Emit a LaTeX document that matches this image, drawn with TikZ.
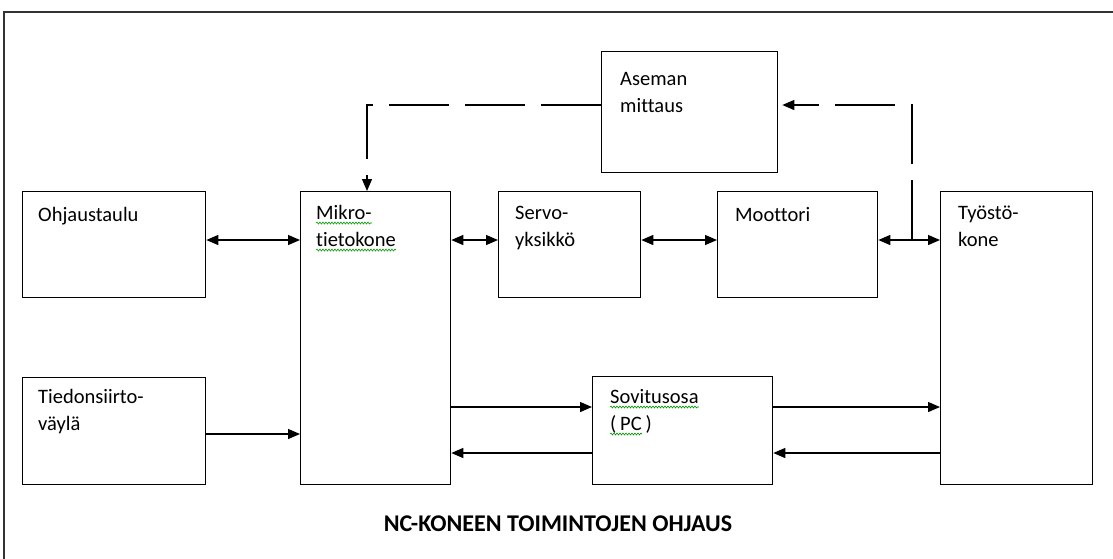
\documentclass[tikz,border=0pt]{standalone}
\usepackage{fontspec}
\setmainfont{Carlito}[Ligatures={NoCommon}]
\usetikzlibrary{arrows.meta,decorations.pathmorphing}
\begin{document}
\begin{tikzpicture}[x=1pt,y=-1pt,
  blk/.style={draw,line width=1.3pt,anchor=north west,inner sep=0pt},
  lbl/.style={anchor=base west,inner sep=0pt,font=\fontsize{20.5}{24}\selectfont},
  conn/.style={line width=1.3pt},
  tip/.style={-{Triangle[length=12pt,width=10pt]}},
  bitip/.style={{Triangle[length=12pt,width=10pt]}-{Triangle[length=12pt,width=10pt]}},
  dsh/.style={line width=1.3pt,dash pattern=on 60pt off 16pt},
  wavy/.style={draw=green!60!black,line width=0.6pt,decorate,decoration={snake,amplitude=1pt,segment length=3pt}}]
\useasboundingbox (0,0) rectangle (1113,558);
\draw[line width=1.2pt,black!80] (4,570) -- (4,12) -- (1120,12);
% boxes
\node[blk,minimum width=183pt,minimum height=106pt] (oh) at (22,191) {};
\node[blk,minimum width=183pt,minimum height=107pt] (ti) at (22,377) {};
\node[blk,minimum width=150pt,minimum height=293pt] (mi) at (300,191) {};
\node[blk,minimum width=142pt,minimum height=106pt] (se) at (498,191) {};
\node[blk,minimum width=160pt,minimum height=106pt] (mo) at (717,191) {};
\node[blk,minimum width=152pt,minimum height=293pt] (ty) at (940,191) {};
\node[blk,minimum width=176pt,minimum height=121pt] (as) at (601,51) {};
\node[blk,minimum width=180pt,minimum height=108pt] (so) at (592,376) {};
% labels
\node[lbl] (t1) at (38,221) {Ohjaustaulu};
\node[lbl] (t2) at (38,403) {Tiedonsiirto-};
\node[lbl] (t3) at (38,430) {väylä};
\node[lbl] (t4) at (316,219) {Mikro-};
\node[lbl] (t5) at (316,246) {tietokone};
\node[lbl] (t6) at (515,219) {Servo-};
\node[lbl] (t7) at (515,246) {yksikkö};
\node[lbl] (t8) at (735,221) {Moottori};
\node[lbl] (t9) at (958,219) {Työstö-};
\node[lbl] (t10) at (958,246) {kone};
\node[lbl] (t11) at (620,85) {Aseman};
\node[lbl] (t12) at (620,112) {mittaus};
\node[lbl] (t13) at (610,403) {Sovitusosa};
\node[lbl] (t14) at (610,430) {(\,};
\node[lbl,anchor=base west] (t15) at (t14.base east) {PC};
\node[lbl,anchor=base west] (t16) at (t15.base east) {\,)};
% spell-check underlines
\draw[wavy] ([yshift=-4pt]t4.base west) -- ([yshift=-4pt]t4.base east);
\draw[wavy] ([yshift=-4pt]t5.base west) -- ([yshift=-4pt]t5.base east);
\draw[wavy] ([yshift=-4pt]t13.base west) -- ([yshift=-4pt]t13.base east);
\draw[wavy] ([yshift=-4pt]t14.base west) -- ([yshift=-4pt]t15.base east);
% title
\node[inner sep=0pt,font=\bfseries\fontsize{24}{28}\selectfont] (title) at (558,524) {NC-KONEEN TOIMINTOJEN OHJAUS};
% connectors
\draw[conn,bitip] (oh.east |- 0,240) -- (mi.west |- 0,240);
\draw[conn,tip] (ti.east |- 0,434) -- (mi.west |- 0,434);
\draw[conn,bitip] (mi.east |- 0,240) -- (se.west |- 0,240);
\draw[conn,bitip] (se.east |- 0,240) -- (mo.west |- 0,240);
\draw[conn,bitip] (mo.east |- 0,240) -- (ty.west |- 0,240);
\draw[conn,tip] (mi.east |- 0,407) -- (so.west |- 0,407);
\draw[conn,tip] (so.west |- 0,453) -- (mi.east |- 0,453);
\draw[conn,tip] (so.east |- 0,407) -- (ty.west |- 0,407);
\draw[conn,tip] (ty.west |- 0,453) -- (so.east |- 0,453);
% dashed feedback
\coordinate (jn) at (912,240);
\draw[dsh,tip] (as.west |- 0,105) -- (367,105) -- (mi.north -| 367,0);
\draw[dsh,tip] (jn) -- (912,105) -- ([xshift=4pt]as.east |- 0,105);
\end{tikzpicture}
\end{document}
